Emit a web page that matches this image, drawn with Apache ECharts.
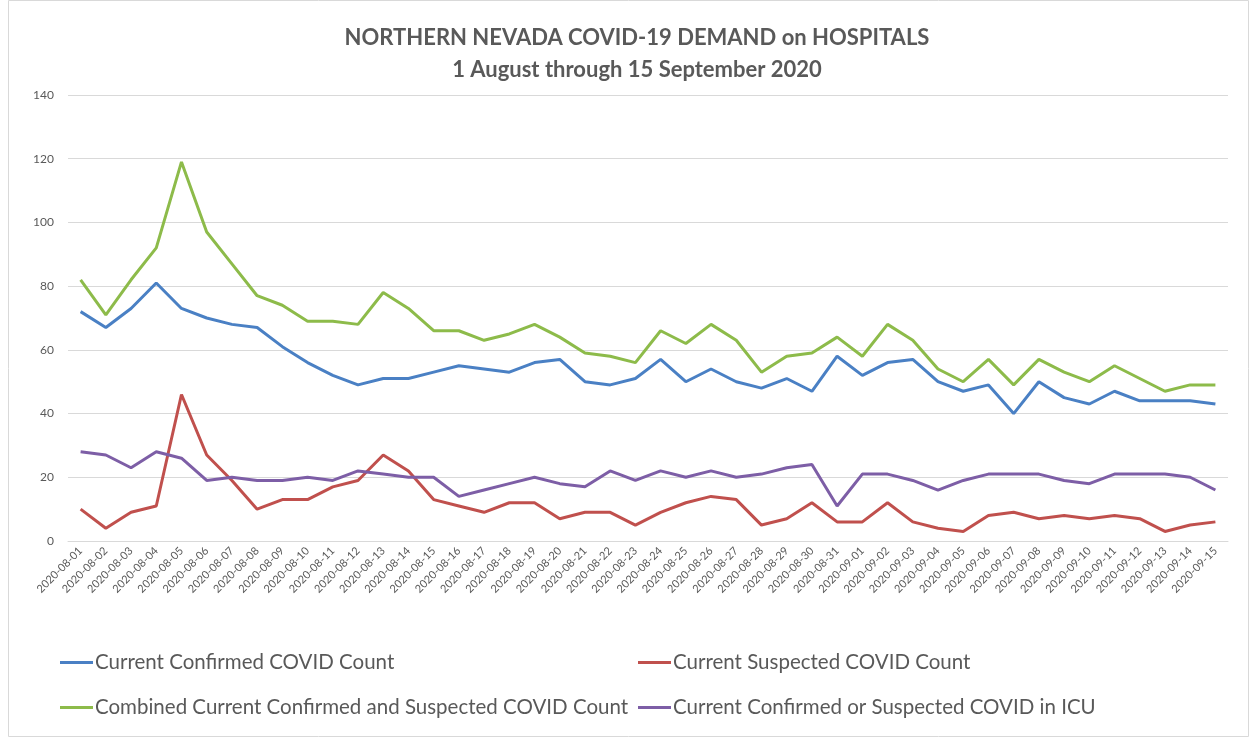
<!DOCTYPE html>
<html><head><meta charset="utf-8">
<script src="https://cdn.jsdelivr.net/npm/echarts@6/dist/echarts.min.js"></script>
<style>html,body{margin:0;padding:0;background:#fff}#c{width:1250px;height:738px}</style>
</head><body><div id="c"></div>
<script>
const dates = ["2020-08-01","2020-08-02","2020-08-03","2020-08-04","2020-08-05","2020-08-06","2020-08-07","2020-08-08","2020-08-09","2020-08-10","2020-08-11","2020-08-12","2020-08-13","2020-08-14","2020-08-15","2020-08-16","2020-08-17","2020-08-18","2020-08-19","2020-08-20","2020-08-21","2020-08-22","2020-08-23","2020-08-24","2020-08-25","2020-08-26","2020-08-27","2020-08-28","2020-08-29","2020-08-30","2020-08-31","2020-09-01","2020-09-02","2020-09-03","2020-09-04","2020-09-05","2020-09-06","2020-09-07","2020-09-08","2020-09-09","2020-09-10","2020-09-11","2020-09-12","2020-09-13","2020-09-14","2020-09-15"];
const confirmed = [72,67,73,81,73,70,68,67,61,56,52,49,51,51,53,55,54,53,56,57,50,49,51,57,50,54,50,48,51,47,58,52,56,57,50,47,49,40,50,45,43,47,44,44,44,43];
const suspected = [10,4,9,11,46,27,19,10,13,13,17,19,27,22,13,11,9,12,12,7,9,9,5,9,12,14,13,5,7,12,6,6,12,6,4,3,8,9,7,8,7,8,7,3,5,6];
const combined = [82,71,82,92,119,97,87,77,74,69,69,68,78,73,66,66,63,65,68,64,59,58,56,66,62,68,63,53,58,59,64,58,68,63,54,50,57,49,57,53,50,55,51,47,49,49];
const icu = [28,27,23,28,26,19,20,19,19,20,19,22,21,20,20,14,16,18,20,18,17,22,19,22,20,22,20,21,23,24,11,21,21,19,16,19,21,21,21,19,18,21,21,21,20,16];
const yTicks = [0,20,40,60,80,100,120,140];
const seriesNames = ["Current Confirmed COVID Count","Current Suspected COVID Count","Combined Current Confirmed and Suspected COVID Count","Current Confirmed or Suspected COVID in ICU"];
const colors = ["#4a80c4","#c0504d","#8dbb4a","#7d5ea6"];

const chart = echarts.init(document.getElementById('c'));
const font = "Lato, 'Open Sans', sans-serif";
const legendPos = [[60,652],[638,652],[60,697],[638,697]];
chart.setOption({
  animation:false,
  color: colors,
  title:{
    text:"NORTHERN NEVADA COVID-19 DEMAND on HOSPITALS\n1 August through 15 September 2020",
    left:632, textAlign:'center', top:17,
    textStyle:{fontFamily:font,fontSize:22,fontWeight:'bold',color:'#595959',lineHeight:32}
  },
  legend: seriesNames.map((n,i)=>({
    data:[n], left:legendPos[i][0], top:legendPos[i][1], padding:0,
    itemWidth:33, itemHeight:3, icon:'rect', itemGap:0,
    textStyle:{fontFamily:font,fontSize:20.5,color:'#595959',padding:[0,0,0,-3]}
  })),
  grid:{left:68,right:22,top:95,bottom:197},
  xAxis:{
    type:'category', data:dates, boundaryGap:true,
    axisLine:{lineStyle:{color:'#d9d9d9',width:1}},
    axisTick:{show:false},
    axisLabel:{rotate:45,fontSize:11,color:'#595959',fontFamily:font,interval:0,margin:8}
  },
  yAxis:{
    type:'value', min:yTicks[0], max:yTicks[yTicks.length-1], interval:20,
    axisLine:{show:false}, axisTick:{show:false},
    splitLine:{lineStyle:{color:'#d9d9d9',width:1}},
    axisLabel:{fontSize:12,color:'#595959',fontFamily:font,margin:14}
  },
  series:[confirmed,suspected,combined,icu].map((d,i)=>({
    name:seriesNames[i], type:'line', data:d, symbol:'none',
    lineStyle:{width:3,color:colors[i]}, itemStyle:{color:colors[i]}
  })),
  graphic:[{type:'rect',shape:{x:8.5,y:0.5,width:1240,height:736},style:{fill:'none',stroke:'#d9d9d9',lineWidth:1},silent:true}]
});
</script></body></html>
